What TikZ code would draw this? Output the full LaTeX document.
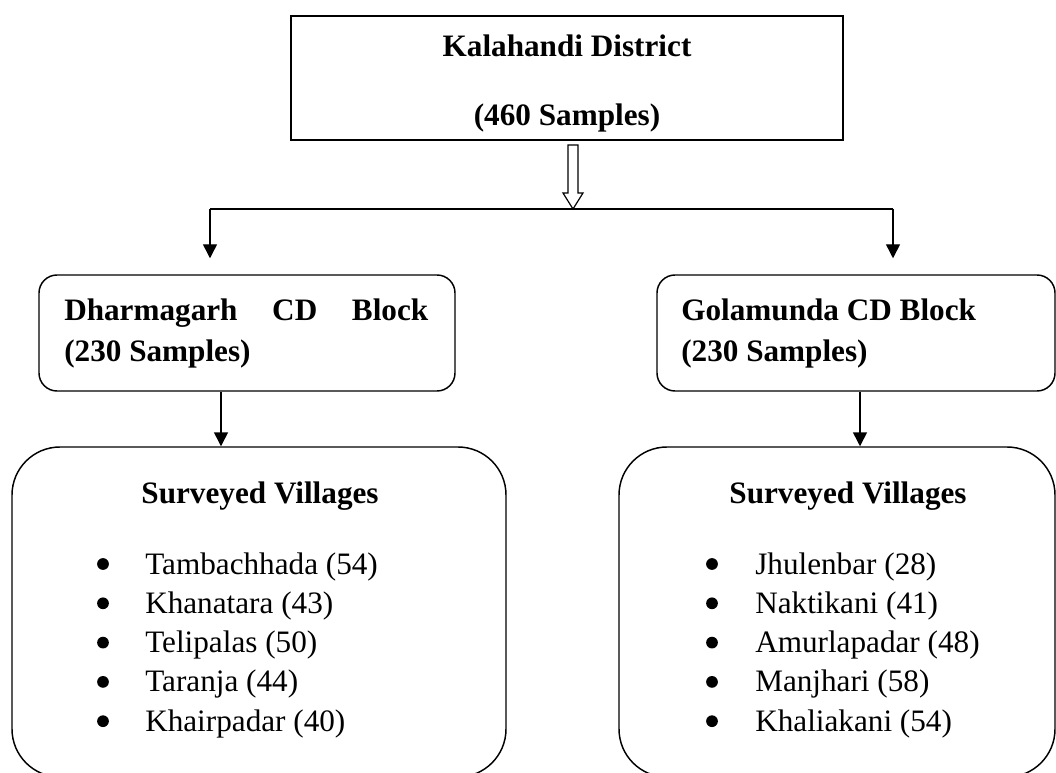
\documentclass[tikz,border=0pt]{standalone}
\usepackage{fontspec}
\setmainfont{Liberation Serif}
\usetikzlibrary{arrows.meta,calc}
\begin{document}
\begin{tikzpicture}[x=0.75pt,y=-0.75pt,
  font=\fontsize{23.4}{29}\selectfont,
  box/.style={draw, line width=1.1pt, inner sep=0pt},
  lbl/.style={inner sep=0pt, anchor=base},
  bold/.style={font=\fontsize{23.4}{29}\selectfont\bfseries},
  conn/.style={line width=1.1pt},
  bulletdot/.style={fill=black},
  arr/.style={conn, -{Triangle[length=10.5pt,width=10.5pt]}}]
\useasboundingbox (0,0) rectangle (1056,773);

% top box
\node[box, line width=1.4pt, minimum width=414pt, minimum height=93pt] (dist) at (567,78) {};
\node[lbl, bold] (t1) at (567,57) {Kalahandi District};
\node[lbl, bold] (t2) at (567,126) {(460 Samples)};

% hollow arrow
\coordinate (h0) at (573,145);
\coordinate (h1) at (573,209);
\draw[line width=0.9pt, fill=white] ($(h0)+(-5,0)$) -- ($(h0)+(5,0)$) -- ($(h1)+(5,-16)$) -- ($(h1)+(10,-16)$) -- (h1) -- ($(h1)+(-10,-16)$) -- ($(h1)+(-5,-16)$) -- cycle;

% block boxes
\node[box, rounded corners=13.5pt, minimum width=312pt, minimum height=87pt] (dh) at (247,333) {};
\node[box, rounded corners=13.5pt, minimum width=298.5pt, minimum height=87pt] (gb) at (856,333) {};
\node[lbl, bold, anchor=base west] (dh1) at (64,321) {\makebox[273pt][s]{Dharmagarh CD Block}};
\node[lbl, bold, anchor=base west] (dh2) at (64,362) {(230 Samples)};
\node[lbl, bold, anchor=base west] (gb1) at (681,321) {Golamunda CD Block};
\node[lbl, bold, anchor=base west] (gb2) at (681,362) {(230 Samples)};

% branch
\coordinate (bl) at (210,209);
\coordinate (br) at (893,209);
\draw[conn] (bl) -- (br);
\draw[arr] (bl) -- ($(bl |- dh.north)+(0,-16)$);
\draw[arr] (br) -- ($(br |- gb.north)+(0,-16)$);

% village boxes
\node[box, rounded corners=36pt, minimum width=370.5pt, minimum height=247.5pt] (lv) at (259,612) {};
\node[box, rounded corners=36pt, minimum width=327pt, minimum height=247.5pt] (rv) at (837,612) {};
\node[lbl, bold] (lvt) at (260,503) {Surveyed Villages};
\node[lbl, bold] (rvt) at (848,503) {Surveyed Villages};

\coordinate (a1) at (221,0);
\coordinate (a2) at (860,0);
\draw[arr] (a1 |- dh.south) -- (a1 |- lv.north);
\draw[arr] (a2 |- gb.south) -- (a2 |- rv.north);

\foreach \t [count=\i, evaluate=\i as \yy using 574+(\i-1)*39.3] in {{Tambachhada (54)},{Khanatara (43)},{Telipalas (50)},{Taranja (44)},{Khairpadar (40)}} {
  \fill[bulletdot] (103,\yy-10) circle[radius=4.4pt];
  \node[lbl, anchor=base west] (lt\i) at (145,\yy) {\t};
}
\foreach \t [count=\i, evaluate=\i as \yy using 574+(\i-1)*39.3] in {{Jhulenbar (28)},{Naktikani (41)},{Amurlapadar (48)},{Manjhari (58)},{Khaliakani (54)}} {
  \fill[bulletdot] (712,\yy-10) circle[radius=4.4pt];
  \node[lbl, anchor=base west] (rt\i) at (755,\yy) {\t};
}
\end{tikzpicture}
\end{document}
